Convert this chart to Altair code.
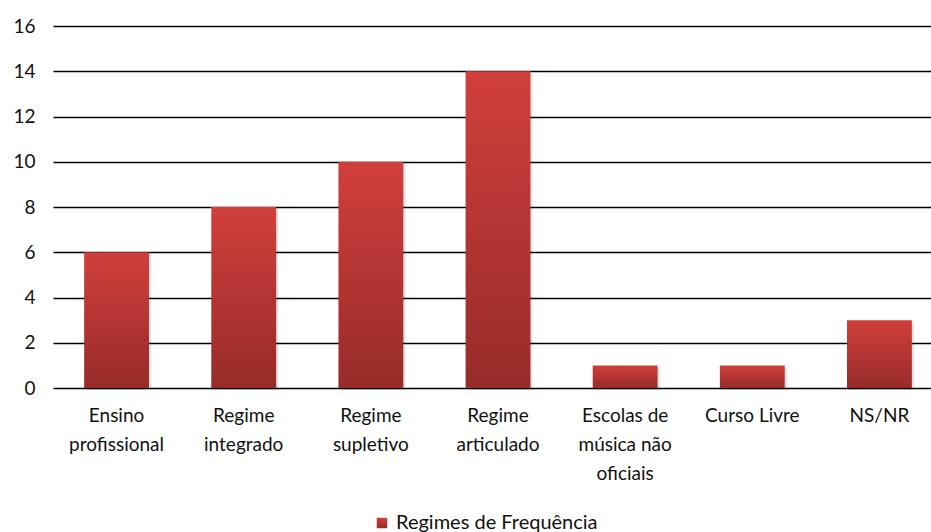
import altair as alt
import pandas as pd

categories = ["Ensino|profissional", "Regime|integrado", "Regime|supletivo", "Regime|articulado",
              "Escolas de|música não|oficiais", "Curso Livre", "NS/NR"]
values = [6, 8, 10, 14, 1, 1, 3]
series = "Regimes de Frequência"

df = pd.DataFrame({"cat": categories, "val": values, "series": [series] * len(values)})

FONT = "Lato"
FS = 19

grad = alt.Gradient(
    gradient="linear", x1=0, y1=0, x2=0, y2=1,
    stops=[alt.GradientStop(color="#d03f3c", offset=0),
           alt.GradientStop(color="#b43533", offset=0.5),
           alt.GradientStop(color="#972b29", offset=1)],
)

x = alt.X("cat:N", sort=categories, title=None,
          scale=alt.Scale(range=[0, 890], paddingInner=0, paddingOuter=0),
          axis=alt.Axis(labelAngle=0, labelExpr="split(datum.label, '|')", labelFont=FONT,
                        labelFontSize=FS, labelColor="#111", labelLineHeight=29, labelPadding=18,
                        domain=False, ticks=False, labelLimit=200))
y = alt.Y("val:Q", title=None,
          scale=alt.Scale(domain=[0, 16], nice=False),
          axis=alt.Axis(values=list(range(0, 17, 2)), labelFont=FONT, labelFontSize=FS,
                        labelColor="#111", labelPadding=18, domain=False, ticks=False,
                        grid=True, gridColor="#000", gridWidth=1.4))

shadow = alt.Chart(df).mark_bar(width={"band": 0.51}, color="#000", opacity=0.12, xOffset=2, yOffset=2).encode(
    x=x, y=y)

bars = alt.Chart(df).mark_bar(width={"band": 0.51}, fill=grad, strokeWidth=0).encode(
    x=x, y=y,
    stroke=alt.Stroke("series:N", scale=alt.Scale(domain=[series], range=["#c03a38"]),
                      legend=alt.Legend(title=None, orient="none", legendX=319, legendY=487,
                                        symbolType="square", symbolFillColor="#c03a38",
                                        symbolStrokeWidth=0, symbolSize=110,
                                        labelFont=FONT, labelFontSize=20, labelColor="#111",
                                        labelOffset=4, labelLimit=400)),
)

chart = alt.layer(shadow, bars).properties(
    width=878, height=362,
    padding={"left": 53, "top": 26, "right": 0, "bottom": 144},
    autosize=alt.AutoSizeParams(type="none"),
    background="white",
).configure_view(stroke=None)

chart.save("out.html", embed_options={"renderer": "svg", "actions": False})
